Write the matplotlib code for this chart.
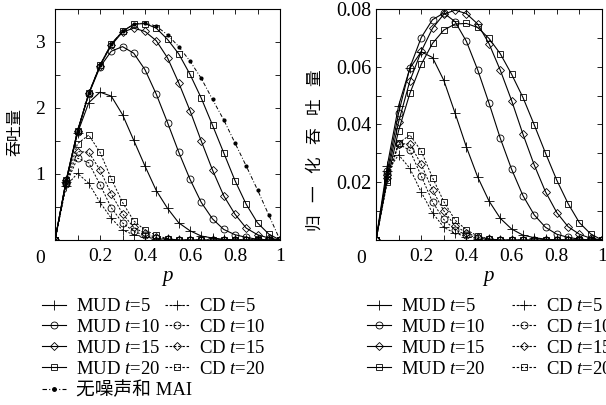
import matplotlib
matplotlib.use("Agg")
import matplotlib.pyplot as plt
from matplotlib.lines import Line2D

plt.rcParams['font.family'] = ['Liberation Serif', 'Noto Sans CJK SC']
plt.rcParams['mathtext.fontset'] = 'custom'
plt.rcParams['mathtext.rm'] = 'Liberation Serif'
plt.rcParams['mathtext.it'] = 'Liberation Serif:italic'

p = [0, 0.05, 0.1, 0.15, 0.2, 0.25, 0.3, 0.35, 0.4, 0.45, 0.5,
     0.55, 0.6, 0.65, 0.7, 0.75, 0.8, 0.85, 0.9, 0.95, 1.0]

# throughput (left)
mud5 = [0, 0.88, 1.62, 2.08, 2.24, 2.18, 1.90, 1.51, 1.12, 0.75, 0.48, 0.26, 0.14, 0.06, 0.03, 0.01, 0, 0, 0, 0, 0]
mud10 = [0, 0.90, 1.64, 2.21, 2.62, 2.86, 2.93, 2.83, 2.58, 2.21, 1.78, 1.33, 0.92, 0.57, 0.32, 0.16, 0.08, 0.04, 0.01, 0, 0]
mud15 = [0, 0.91, 1.65, 2.22, 2.64, 2.95, 3.15, 3.21, 3.16, 3.02, 2.76, 2.38, 1.96, 1.50, 1.06, 0.67, 0.39, 0.18, 0.08, 0.03, 0]
mud20 = [0, 0.91, 1.65, 2.22, 2.65, 2.97, 3.16, 3.27, 3.28, 3.21, 3.04, 2.82, 2.51, 2.15, 1.74, 1.32, 0.90, 0.54, 0.26, 0.09, 0]
ideal = [0, 0.91, 1.65, 2.22, 2.65, 2.97, 3.16, 3.27, 3.29, 3.24, 3.11, 2.93, 2.71, 2.45, 2.13, 1.82, 1.47, 1.12, 0.76, 0.38, 0]
cd5 = [0, 0.82, 1.01, 0.86, 0.57, 0.33, 0.15, 0.08, 0.04, 0.02, 0.01, 0, 0, 0, 0, 0, 0, 0, 0, 0, 0]
cd10 = [0, 0.85, 1.24, 1.17, 0.84, 0.49, 0.26, 0.13, 0.07, 0.03, 0.01, 0, 0, 0, 0, 0, 0, 0, 0, 0, 0]
cd15 = [0, 0.86, 1.34, 1.33, 1.06, 0.70, 0.40, 0.19, 0.10, 0.04, 0.02, 0, 0, 0, 0, 0, 0, 0, 0, 0, 0]
cd20 = [0, 0.87, 1.46, 1.59, 1.33, 0.93, 0.57, 0.29, 0.15, 0.07, 0.02, 0, 0, 0, 0, 0, 0, 0, 0, 0, 0]

# normalized throughput (right)
nmud5 = [0, 0.0258, 0.0465, 0.0595, 0.0652, 0.0632, 0.0553, 0.0439, 0.0322, 0.0218, 0.0135, 0.0075, 0.0038, 0.0017, 0.0008, 0.0003, 0, 0, 0, 0, 0]
nmud10 = [0, 0.0238, 0.0440, 0.0597, 0.0701, 0.0763, 0.0786, 0.0756, 0.0688, 0.0589, 0.0474, 0.0352, 0.0245, 0.0154, 0.0087, 0.0044, 0.0020, 0.0009, 0.0003, 0, 0]
nmud15 = [0, 0.0224, 0.0409, 0.0551, 0.0653, 0.0733, 0.0782, 0.0796, 0.0784, 0.0748, 0.0680, 0.0588, 0.0483, 0.0367, 0.0260, 0.0167, 0.0095, 0.0046, 0.0020, 0.0006, 0]
nmud20 = [0, 0.0208, 0.0379, 0.0508, 0.0608, 0.0681, 0.0727, 0.0748, 0.0750, 0.0736, 0.0698, 0.0645, 0.0574, 0.0494, 0.0399, 0.0301, 0.0207, 0.0126, 0.0060, 0.0021, 0]
ncd5 = [0, 0.0238, 0.0295, 0.0248, 0.0166, 0.0094, 0.0044, 0.0023, 0.0012, 0.0005, 0.0002, 0, 0, 0, 0, 0, 0, 0, 0, 0, 0]
ncd10 = [0, 0.0228, 0.0333, 0.0310, 0.0222, 0.0132, 0.0071, 0.0035, 0.0018, 0.0008, 0.0003, 0, 0, 0, 0, 0, 0, 0, 0, 0, 0]
ncd15 = [0, 0.0215, 0.0333, 0.0333, 0.0262, 0.0173, 0.0101, 0.0049, 0.0025, 0.0010, 0.0004, 0, 0, 0, 0, 0, 0, 0, 0, 0, 0]
ncd20 = [0, 0.0200, 0.0335, 0.0364, 0.0308, 0.0216, 0.0133, 0.0069, 0.0035, 0.0014, 0.0004, 0, 0, 0, 0, 0, 0, 0, 0, 0, 0]

t_values = [5, 10, 15, 20]
markers = ['+', 'o', 'D', 's']
msizes = [7, 5, 4, 5]
cd_dash = (0, (2.2, 1.6))
ideal_dash = (0, (4, 2, 1, 2))

fig = plt.figure(figsize=(6.06, 4.05), dpi=100)
ax1 = fig.add_axes([55 / 606, 165 / 405, 225 / 606, 231 / 405])
ax2 = fig.add_axes([376 / 606, 165 / 405, 226 / 606, 231 / 405])

def style(m, ms):
    return dict(color='black', marker=m, markersize=ms, mfc='none', mec='black', mew=0.6)

for i, (m, c) in enumerate(zip([mud5, mud10, mud15, mud20], [cd5, cd10, cd15, cd20])):
    ax1.plot(p, m, lw=0.8, **style(markers[i], msizes[i]))
    ax1.plot(p, c, lw=0.7, linestyle=cd_dash, **style(markers[i], msizes[i]))
ax1.plot(p, ideal, lw=0.7, linestyle=ideal_dash, color='black', marker='.', markersize=4)

for i, (m, c) in enumerate(zip([nmud5, nmud10, nmud15, nmud20], [ncd5, ncd10, ncd15, ncd20])):
    ax2.plot(p, m, lw=0.8, **style(markers[i], msizes[i]))
    ax2.plot(p, c, lw=0.7, linestyle=cd_dash, **style(markers[i], msizes[i]))

xt = [0, 0.2, 0.4, 0.6, 0.8, 1.0]
for ax in (ax1, ax2):
    ax.set_xlim(0, 1)
    ax.set_xticks(xt)
    ax.set_xticklabels(['', '0.2', '0.4', '0.6', '0.8', '1'])
    ax.set_xticks([0.1, 0.3, 0.5, 0.7, 0.9], minor=True)
    ax.tick_params(which='both', direction='in', top=True, right=True, length=3.5, width=0.6,
                   labelsize=14)
    ax.tick_params(axis='x', pad=6)
    for s in ax.spines.values():
        s.set_linewidth(0.8)
    ax.set_xlabel('$p$', fontsize=15, labelpad=3)
    ax.text(-0.067, -0.078, '0', transform=ax.transAxes, ha='center', va='center', fontsize=14)

ax1.tick_params(axis='y', pad=7)
ax2.tick_params(axis='y', pad=3.5, labelsize=14.5)

ax1.set_ylim(0, 3.5)
ax1.set_yticks([1, 2, 3])
ax1.set_yticks([0.5, 1.5, 2.5, 3.5], minor=True)
ax1.set_ylabel('吞吐量', family=['Noto Sans CJK SC'], fontsize=11.5)
ax1.yaxis.set_label_coords(-0.142, 0.467)

ax2.set_ylim(0, 0.08)
ax2.set_yticks([0.02, 0.04, 0.06, 0.08])
ax2.set_yticklabels(['0.02', '0.04', '0.06', '0.08'])
ax2.set_yticks([0.01, 0.03, 0.05, 0.07], minor=True)
ax2.set_ylabel('   '.join('归一化吞吐量'), family=['Liberation Serif', 'Noto Sans CJK SC'], fontsize=12)
ax2.yaxis.set_label_coords(-0.232, 0.39)

def handle(i, ls):
    return Line2D([], [], color='black', lw=0.8, linestyle=ls, marker=markers[i],
                  markersize=msizes[i], mfc='none', mec='black', mew=0.6)

mud_handles = [handle(i, '-') for i in range(4)]
cd_handles = [handle(i, cd_dash) for i in range(4)]
mud_labels = ['MUD $t$=%d' % t for t in t_values]
cd_labels = ['CD $t$=%d' % t for t in t_values]
ideal_handle = Line2D([], [], color='black', lw=0.8, linestyle=ideal_dash, marker='.', markersize=5)

leg_kw = dict(loc='upper left', frameon=False, handlelength=1.3, handletextpad=0.5,
              labelspacing=0.2, borderpad=0, borderaxespad=0,
              prop={'family': ['Liberation Serif', 'Noto Sans CJK SC'], 'size': 13.5})

def add_legend(h, l, x, y):
    fig.legend(h, l, bbox_to_anchor=(x / 606, 1 - y / 405), **leg_kw)

add_legend(mud_handles + [ideal_handle], mud_labels + ['无噪声和 MAI'], 42, 298)
add_legend(cd_handles, cd_labels, 165, 298)
add_legend(mud_handles, mud_labels, 367, 298)
add_legend(cd_handles, cd_labels, 512, 298)

fig.savefig('out.png', dpi=100)
